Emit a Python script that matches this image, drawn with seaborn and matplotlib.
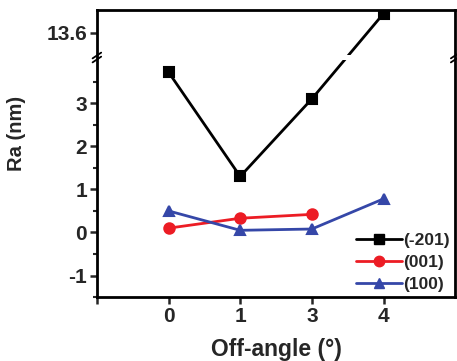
import numpy as np
import pandas as pd
import matplotlib
matplotlib.use("Agg")
import matplotlib.pyplot as plt
from matplotlib.lines import Line2D
import seaborn as sns

# ---- data ----
angles = ["0", "1", "3", "4"]
ra_m201 = [3.72, 1.30, 3.10, 14.05]
ra_001 = [0.10, 0.33, 0.42]
ra_100 = [0.50, 0.05, 0.08, 0.78]
series_names = ["(-201)", "(001)", "(100)"]
colors = ["#000000", "#ec1c24", "#3547a8"]
markers = ["s", "o", "^"]

rows = []
for name, vals in zip(series_names, [ra_m201, ra_001, ra_100]):
    for a, v in zip(angles, vals):
        rows.append({"angle": a, "Ra": v, "face": name})
df = pd.DataFrame(rows)

sns.set_style("ticks")
plt.rcParams["font.family"] = ["Liberation Sans", "DejaVu Sans"]
plt.rcParams["font.weight"] = "bold"

fig = plt.figure(figsize=(4.57, 3.61), dpi=100)
ax = fig.add_axes([0.212, 0.177, 0.784, 0.795])

sns.pointplot(data=df, x="angle", y="Ra", hue="face", order=angles,
              hue_order=series_names, palette=dict(zip(series_names, colors)),
              markers=markers, linestyles=["-", "-", "-"], errorbar=None,
              dodge=False, legend=False, ax=ax, linewidth=2.0, markersize=7.5)

# broken y axis via piecewise scale
LO, HI, GAP = 4.0, 13.09, 0.12
SH = HI - (LO + GAP)

def fwd(y):
    y = np.asarray(y, float)
    return np.where(y <= LO, y, np.where(y >= HI, y - SH, LO + (y - LO) * GAP / (HI - LO)))

def inv(t):
    t = np.asarray(t, float)
    return np.where(t <= LO, t, np.where(t >= LO + GAP, t + SH, LO + (t - LO) * (HI - LO) / GAP))

ax.set_yscale("function", functions=(fwd, inv))
ax.set_ylim(-1.5, 14.13)
ax.set_xlim(-1, 4)

ax.set_yticks([-1, 0, 1, 2, 3, 13.6])
ax.set_yticklabels(["-1", "0", "1", "2", "3", "13.6"])
ax.set_yticks([-1.5, -0.5, 0.5, 1.5, 2.5, 3.5], minor=True)
ax.set_xticks([-1, 0, 1, 2, 3])
ax.set_xticklabels(["", "0", "1", "3", "4"])

ax.tick_params(axis="both", which="major", direction="out", length=5, width=1.8,
               labelsize=15, right=False, top=False, pad=2)
ax.tick_params(axis="y", which="minor", direction="out", length=3, width=1.5)
for lab in ax.get_xticklabels() + ax.get_yticklabels():
    lab.set_fontweight("bold")

for s in ax.spines.values():
    s.set_linewidth(2.0)
    s.set_color("black")
    s.set_visible(True)

# white band hiding the break region
ax.axhspan(LO, HI, color="white", zorder=2.2, lw=0)

# break marks on both spines
ybr = float((fwd(LO) + GAP / 2 - fwd(-1.5)) / (fwd(14.13) - fwd(-1.5)))
for xs in (0.0, 1.0):
    for dy in (-0.007, 0.007):
        ax.plot([xs - 0.012, xs + 0.012], [ybr + dy - 0.01, ybr + dy + 0.01],
                transform=ax.transAxes, color="black", lw=1.3, clip_on=False, zorder=5)

ax.set_xlabel("Off-angle (°)", fontsize=16.5, fontweight="bold", labelpad=9)
ax.set_ylabel("Ra (nm)", fontsize=14.5, fontweight="bold")
ax.yaxis.set_label_coords(-0.198, 0.57)

handles = [Line2D([], [], color=c, marker=m, lw=2.0, markersize=7.5)
           for c, m in zip(colors, markers)]
leg = ax.legend(handles, series_names, loc="lower right", frameon=False,
                fontsize=12.5, handlelength=2.6, handletextpad=0.1,
                labelspacing=0.4, borderaxespad=0.1, borderpad=0.2)
for t in leg.get_texts():
    t.set_fontweight("bold")

fig.savefig("out.png", dpi=100)
